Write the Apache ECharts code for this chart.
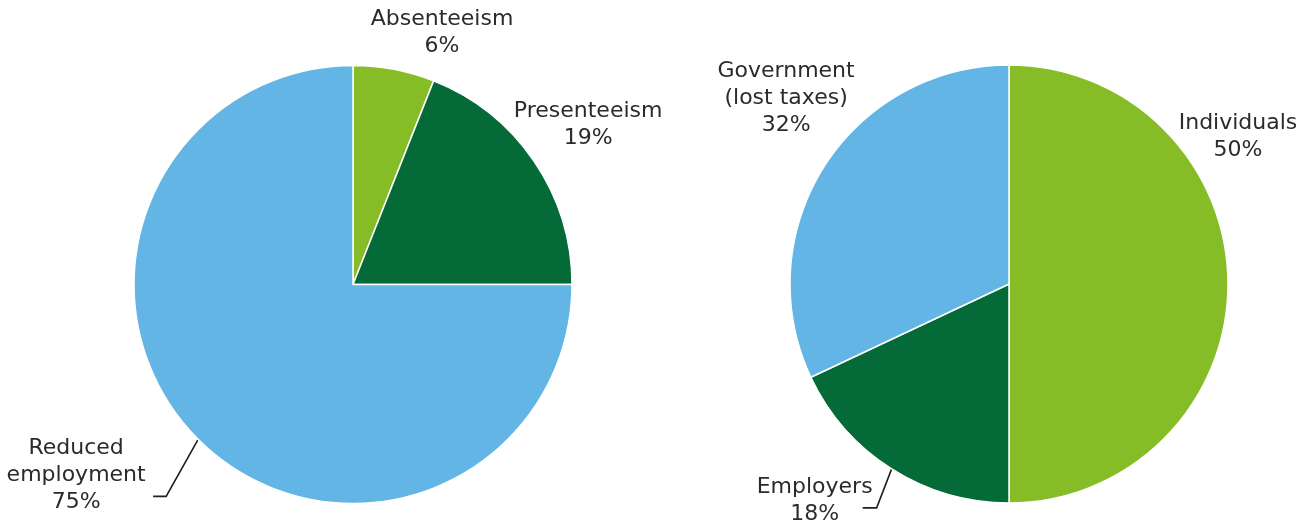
<!DOCTYPE html>
<html>
<head>
<meta charset="utf-8">
<style>
  html, body { margin: 0; padding: 0; background: #ffffff; }
  #chart { width: 1308px; height: 527px; }
</style>
<script src="https://cdn.jsdelivr.net/npm/echarts@6/dist/echarts.min.js"></script>
</head>
<body>
<div id="chart"></div>
<script>
// Cost split by type of loss (left pie)
const lossCategories = ['Absenteeism', 'Presenteeism', 'Reduced\nemployment'];
const lossShares = [6, 19, 75];

// Who bears the cost (right pie)
const bearerCategories = ['Individuals', 'Employers', 'Government\n(lost taxes)'];
const bearerShares = [50, 18, 32];

const sliceColors = ['#86bc25', '#046a38', '#62b5e5'];

// Label placement relative to the outer edge point at each slice's mid-angle:
// dx/dy moves the text block centre, line gives the bend and end of a leader line.
const labelPlacement = [
  [
    { dx: 48, dy: -37 },
    { dx: 54, dy: -37 },
    { dx: -122, dy: 36, line: [[-32, 57], [-45, 57]] }
  ],
  [
    { dx: 10, dy: -147 },
    { dx: -77, dy: 32, line: [[-15, 39], [-29, 39]] },
    { dx: -38, dy: -68 }
  ]
];

const chart = echarts.init(document.getElementById('chart'), null, { renderer: 'canvas' });

function buildData(names, values, seriesIdx) {
  return names.map((name, i) => ({
    name: name,
    value: values[i],
    itemStyle: { color: sliceColors[i] },
    labelLine: { show: !!labelPlacement[seriesIdx][i].line }
  }));
}

function placeLabel(params) {
  const data = chart.getModel().getSeriesByIndex(params.seriesIndex).getData();
  const lay = data.getItemLayout(params.dataIndex);
  const mid = (lay.startAngle + lay.endAngle) / 2;
  const ex = lay.cx + lay.r * Math.cos(mid);
  const ey = lay.cy + lay.r * Math.sin(mid);
  const p = labelPlacement[params.seriesIndex][params.dataIndex];
  const out = {
    x: ex + p.dx,
    y: ey + p.dy,
    align: 'center',
    verticalAlign: 'middle'
  };
  if (p.line) {
    out.labelLinePoints = [
      [ex, ey],
      [ex + p.line[0][0], ey + p.line[0][1]],
      [ex + p.line[1][0], ey + p.line[1][1]]
    ];
  }
  return out;
}

const commonSeries = {
  type: 'pie',
  radius: 219,
  startAngle: 90,
  clockwise: true,
  avoidLabelOverlap: false,
  animation: false,
  silent: true,
  itemStyle: { borderColor: '#ffffff', borderWidth: 1.5 },
  label: {
    show: true,
    position: 'outside',
    formatter: '{b}\n{c}%',
    fontFamily: 'DejaVu Sans',
    fontSize: 22,
    lineHeight: 27,
    color: '#2b2b2b',
    align: 'center'
  },
  labelLine: {
    show: true,
    smooth: false,
    lineStyle: { color: '#1f1f1f', width: 1.6 }
  },
  emphasis: { disabled: true },
  labelLayout: placeLabel
};

chart.setOption({
  backgroundColor: '#ffffff',
  series: [
    Object.assign({}, commonSeries, {
      center: [353, 284.5],
      data: buildData(lossCategories, lossShares, 0)
    }),
    Object.assign({}, commonSeries, {
      center: [1009, 284],
      data: buildData(bearerCategories, bearerShares, 1)
    })
  ]
});
</script>
</body>
</html>
